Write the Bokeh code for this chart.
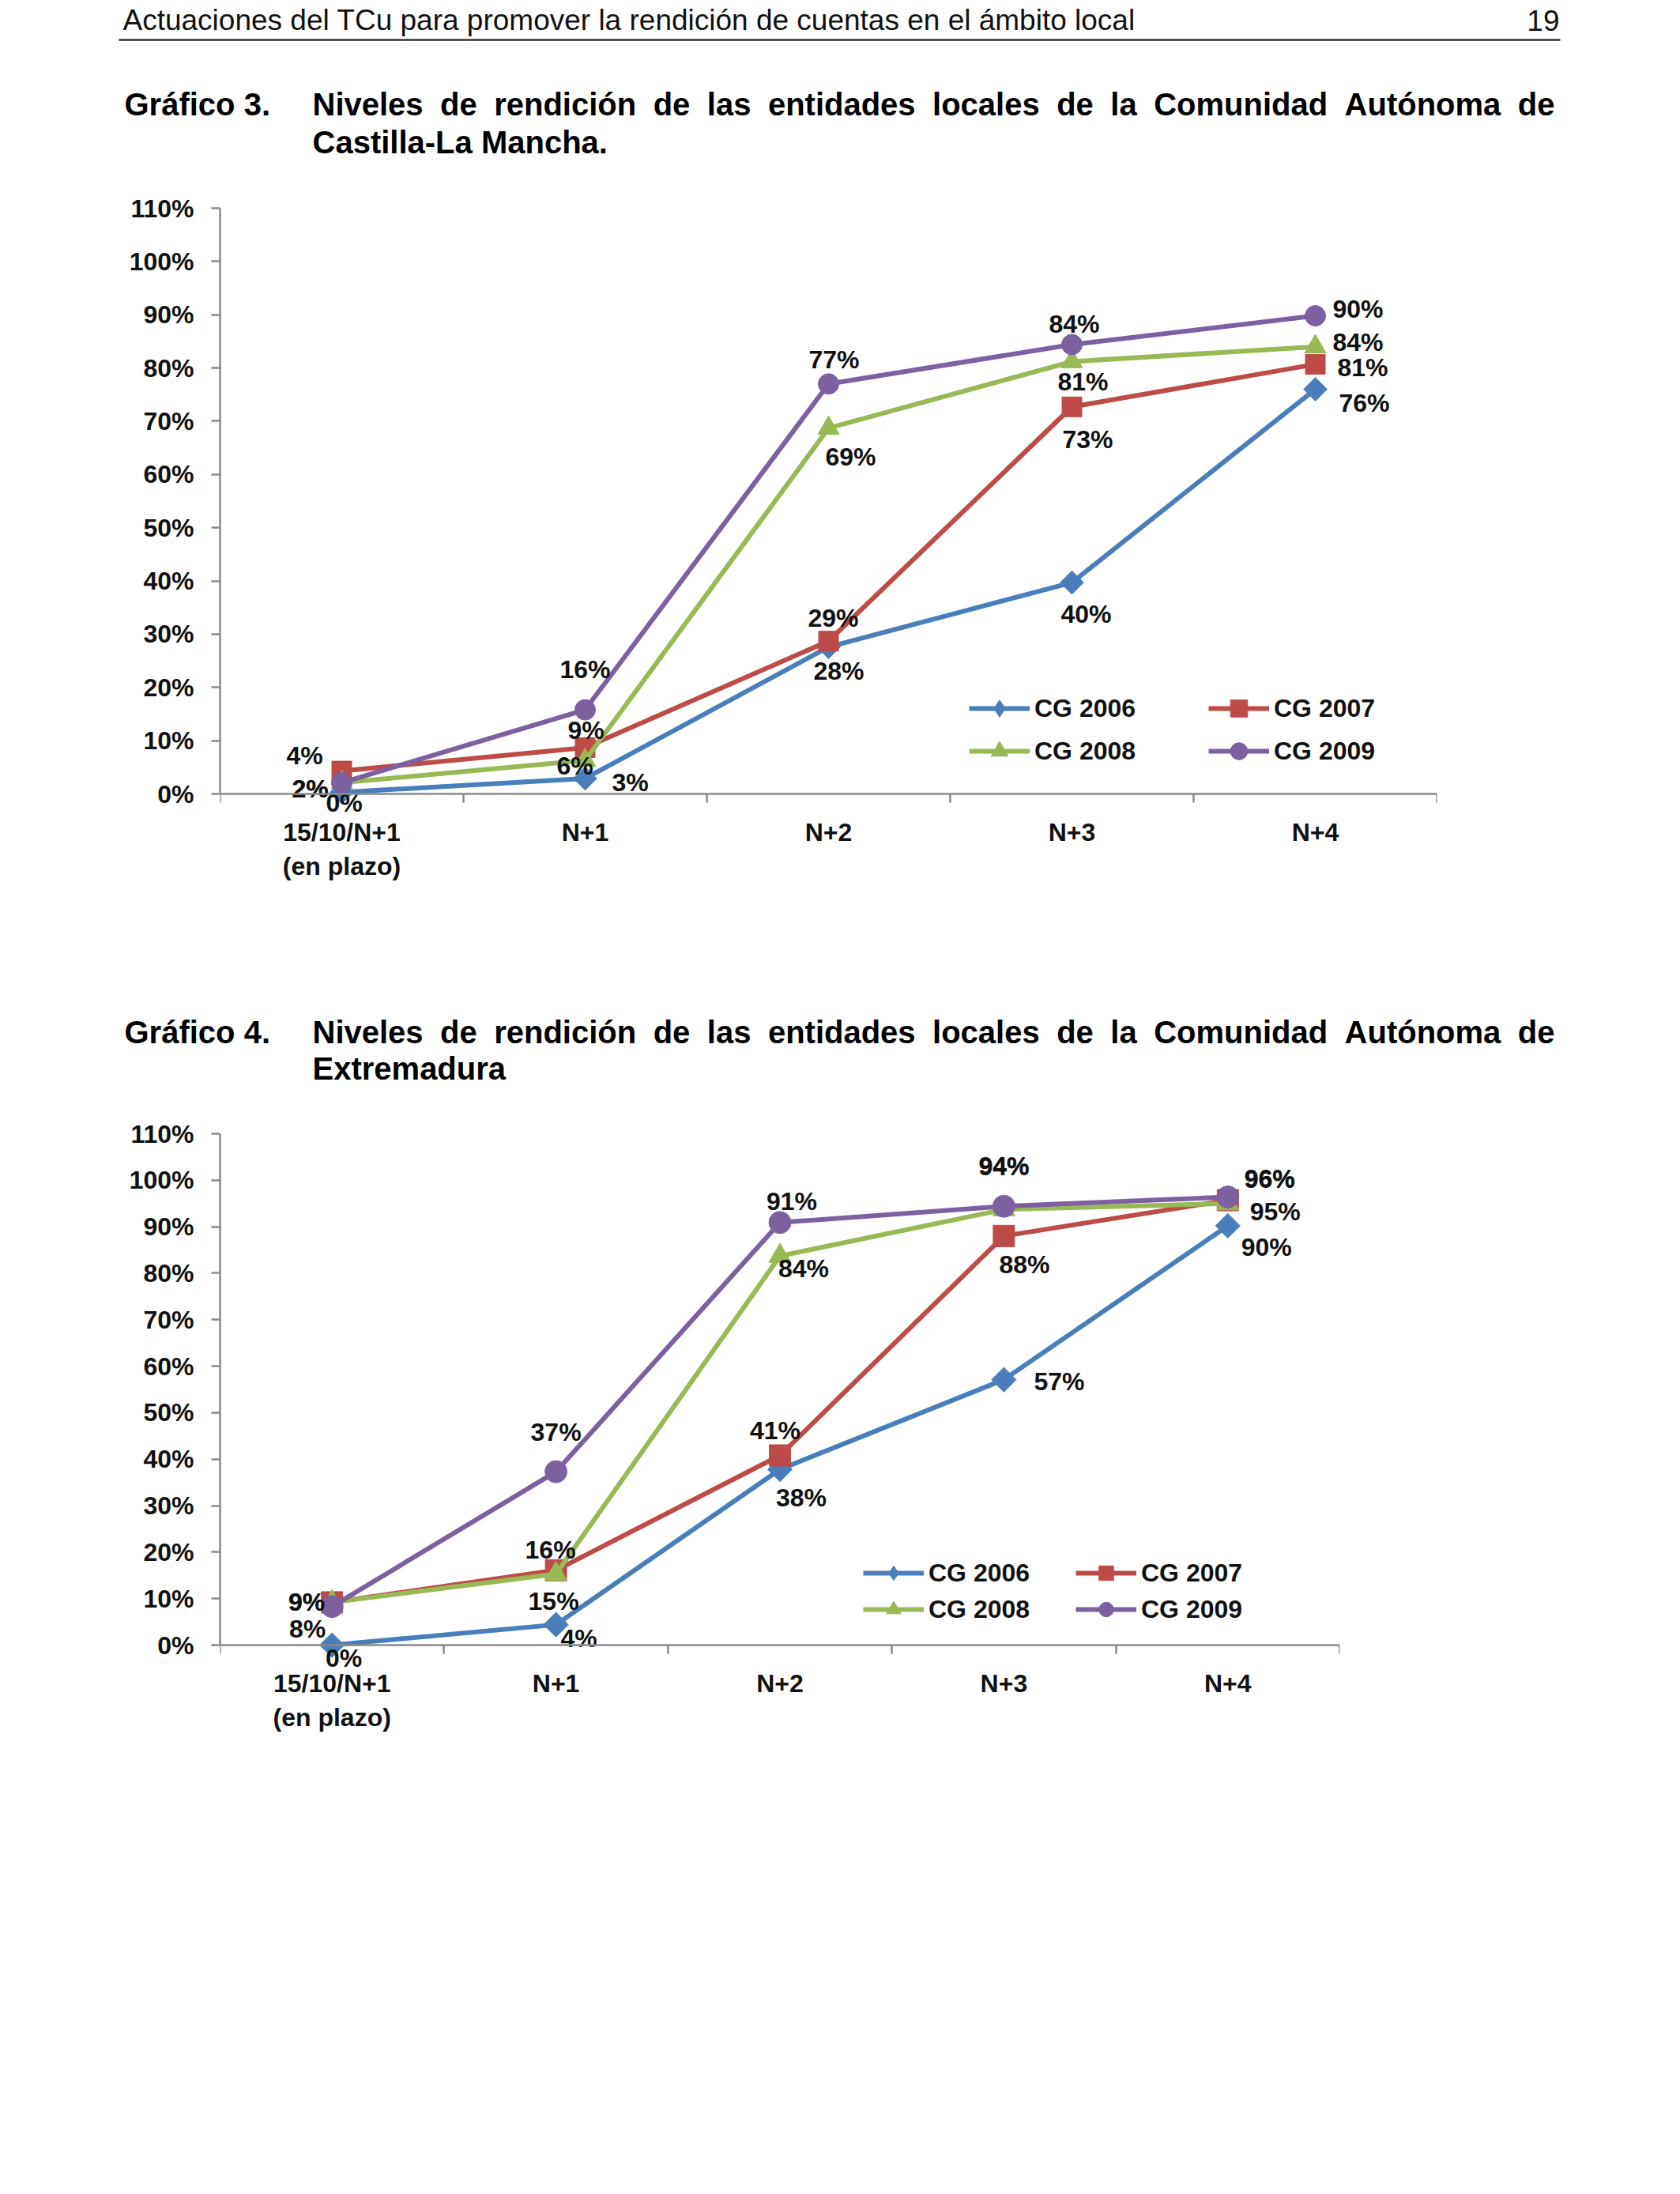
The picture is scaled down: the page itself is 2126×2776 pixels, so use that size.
import math
from bokeh.plotting import figure
from bokeh.models import Range1d, FixedTicker, NumeralTickFormatter, Legend, LegendItem
from bokeh.embed import file_html
from bokeh.resources import INLINE
from bokeh.core.properties import value

# ---------------- data ----------------
categories = ["15/10/N+1\n(en plazo)", "N+1", "N+2", "N+3", "N+4"]
series_names = ["CG 2006", "CG 2007", "CG 2008", "CG 2009"]
y_ticks = [i / 10 for i in range(12)]

# Gráfico 3 - Castilla-La Mancha
clm_2006 = [0.003, 0.029, 0.276, 0.397, 0.760]
clm_2007 = [0.043, 0.087, 0.287, 0.727, 0.807]
clm_2008 = [0.021, 0.063, 0.687, 0.812, 0.840]
clm_2009 = [0.021, 0.158, 0.770, 0.844, 0.898]

# Gráfico 4 - Extremadura
ext_2006 = [0.000, 0.044, 0.378, 0.571, 0.902]
ext_2007 = [0.092, 0.161, 0.408, 0.880, 0.957]
ext_2008 = [0.092, 0.153, 0.837, 0.937, 0.950]
ext_2009 = [0.083, 0.373, 0.909, 0.944, 0.964]

header_text = "Actuaciones del TCu para promover la rendición de cuentas en el ámbito local"
page_number = "19"
title1_label = "Gráfico 3."
title1_line1 = "Niveles de rendición de las entidades locales de la Comunidad Autónoma de"
title1_line2 = "Castilla-La Mancha."
title2_label = "Gráfico 4."
title2_line1 = "Niveles de rendición de las entidades locales de la Comunidad Autónoma de"
title2_line2 = "Extremadura"

# ---------------- styles ----------------
COLORS = ["#4A7EBB", "#BE4B48", "#98B954", "#7D60A0"]
MARKERS = ["square", "square", "triangle", "circle"]
ANGLES = [math.pi / 4, 0, 0, 0]
SIZES1 = [21, 25, 27, 26]
SIZES2 = [22, 27, 28, 28]
FONT = "Liberation Sans"
FS = "32px"
TXT = "#111111"
AXIS_GRAY = "#898989"

OFF1 = [
    [(3, 14), (57, 5), (13, 30), (18, 40), (62, 17)],
    [(-47, -20), (1, -22), (6, -29), (20, 41), (60, 4)],
    [(-40, 8), (-13, 7), (28, 36), (14, 25), (54, -6)],
    [(-40, 8), (0, -51), (7, -31), (3, -26), (54, -9)],
]
OFF2 = [
    [(15, 16), (29, 17), (27, 36), (70, 2), (49, 27)],
    [(-32, 0), (-7, -26), (-6, -32), (26, 36), (53, -27)],
    [(-32, 0), (-3, 34), (30, 16), (0, -55), (60, 10)],
    [(-31, 28), (0, -50), (15, -27), (0, -50), (53, -23)],
]

W = 2126
FRAME_L = 278
EXTRA_PX = 135   # frame extends below the 0% line: category labels and low data labels stay inside
BOTTOM_PX = 130  # space kept for the (fixed-location) x axis panel

AB = {"A": 722, "C": 722, "N": 722, "a": 556, "c": 556, "d": 611, "e": 556,
      "i": 278, "l": 278, "m": 889, "n": 611, "o": 611, "r": 389, "s": 556,
      "t": 333, "u": 611, "v": 556, "ó": 611}


def justify(words, x0, x1, size):
    ws = [sum(AB.get(c, 556) for c in w) * size / 1000 for w in words]
    gap = (x1 - x0 - sum(ws)) / (len(words) - 1)
    xs, x = [], x0
    for w in ws:
        xs.append(x)
        x += w + gap
    return xs


def text_fig(top, height):
    f = figure(width=W, height=height, x_range=Range1d(0, W),
               y_range=Range1d(top + height, top), output_backend="svg",
               toolbar_location=None, min_border=0,
               x_axis_location=None, y_axis_location=None)
    f.outline_line_color = None
    f.xgrid.visible = False
    f.ygrid.visible = False
    return f


def put_text(f, xs, ys, texts, size, bold=False, align="left", color="#000000"):
    f.text(x=xs, y=ys, text=texts, text_font=value(FONT), text_font_size=f"{size}px",
           text_font_style="bold" if bold else "normal", text_baseline="middle",
           text_align=align, text_color=color)


def add_title(f, label, line1, line2, y1, y2):
    size = 40
    put_text(f, [157], [y1], [label], size, bold=True)
    words = line1.split(" ")
    put_text(f, justify(words, 395, 1967, size), [y1] * len(words), words, size, bold=True)
    put_text(f, [395], [y2], [line2], size, bold=True)


def chart(series, offsets, sizes, top_page, frame_top, zero_y,
          frame_right, legend_loc, label_w, row_h):
    n = len(categories)
    px_per_unit = (zero_y - frame_top) / 1.1
    y_start = -EXTRA_PX / px_per_unit
    height = (zero_y + EXTRA_PX + BOTTOM_PX) - top_page
    p = figure(width=W, height=height, output_backend="svg", toolbar_location=None,
               x_range=Range1d(0, n), y_range=Range1d(y_start, 1.1),
               min_border_left=FRAME_L, min_border_right=W - frame_right,
               min_border_top=frame_top - top_page, min_border_bottom=BOTTOM_PX)
    p.outline_line_color = None
    p.xgrid.visible = False
    p.ygrid.visible = False

    xs = [i + 0.5 for i in range(n)]
    items = []
    for k, vals in enumerate(series):
        lr = p.line(xs, vals, line_color=COLORS[k], line_width=6, line_join="round")
        rends = [lr]
        if k == 0:
            # Bokeh diamond hidden under the rotated square; used for the legend symbol
            rends.append(p.scatter(xs, vals, marker="diamond", size=sizes[k] + 5,
                                   fill_color=COLORS[k], line_color=COLORS[k]))
        sr = p.scatter(xs, vals, marker=MARKERS[k], angle=ANGLES[k], size=sizes[k],
                       fill_color=COLORS[k], line_color=COLORS[k], line_width=1)
        if k != 0:
            rends.append(sr)
        items.append(LegendItem(label=series_names[k], renderers=rends))
    for k, vals in enumerate(series):
        p.text(xs, vals, text=[f"{int(v * 100 + 0.5)}%" for v in vals],
               x_offset=[o[0] for o in offsets[k]], y_offset=[o[1] for o in offsets[k]],
               text_font=value(FONT), text_font_style="bold", text_font_size=FS,
               text_align="center", text_baseline="middle", text_color=TXT)

    ya = p.yaxis[0]
    ya.bounds = (0, 1.1)
    ya.ticker = FixedTicker(ticks=y_ticks)
    ya.formatter = NumeralTickFormatter(format="0%")
    ya.axis_line_color = AXIS_GRAY
    ya.axis_line_width = 2.5
    ya.major_tick_line_color = AXIS_GRAY
    ya.major_tick_line_width = 2.5
    ya.major_tick_out = 11
    ya.major_tick_in = 0
    ya.minor_tick_line_color = None
    ya.major_label_standoff = 22
    ya.major_label_text_font = FONT
    ya.major_label_text_font_style = "bold"
    ya.major_label_text_font_size = FS
    ya.major_label_text_color = TXT

    xa = p.xaxis[0]
    xa.fixed_location = 0
    xa.ticker = FixedTicker(ticks=xs, minor_ticks=list(range(n + 1)))
    xa.major_label_overrides = {x: c for x, c in zip(xs, categories)}
    xa.axis_line_color = AXIS_GRAY
    xa.axis_line_width = 2.5
    xa.major_tick_line_color = None
    xa.major_tick_out = 11
    xa.major_tick_in = 0
    xa.minor_tick_line_color = AXIS_GRAY
    xa.minor_tick_line_width = 2.5
    xa.minor_tick_out = 11
    xa.minor_tick_in = 0
    xa.major_label_standoff = 19
    xa.major_label_text_font = FONT
    xa.major_label_text_font_style = "bold"
    xa.major_label_text_font_size = FS
    xa.major_label_text_color = TXT

    leg = Legend(items=items, location=(legend_loc[0], legend_loc[1] + EXTRA_PX),
                 ncols=2, orientation="horizontal",
                 border_line_color=None, background_fill_alpha=0, padding=0, margin=0,
                 spacing=0, glyph_width=77, glyph_height=row_h, label_height=row_h,
                 label_width=label_w, label_standoff=6,
                 label_text_font=FONT, label_text_font_style="bold",
                 label_text_font_size=FS, label_text_color=TXT)
    p.add_layout(leg, "center")
    return p, top_page + height


# ---------------- page ----------------
f0 = text_fig(0, 230)
put_text(f0, [155], [25], [header_text], 37, color="#111111")
put_text(f0, [1973], [25], [page_number], 37, align="right", color="#111111")
f0.segment(x0=[150], y0=[50], x1=[1974], y1=[50], line_width=2.5, line_color="#333333")
add_title(f0, title1_label, title1_line1, title1_line2, 131, 179)

p1, p1_end = chart([clm_2006, clm_2007, clm_2008, clm_2009], OFF1, SIZES1,
                   top_page=230, frame_top=263, zero_y=1004,
                   frame_right=1818, legend_loc=(948, 27), label_w=220, row_h=54)

f2 = text_fig(p1_end, 1400 - p1_end)
add_title(f2, title2_label, title2_line1, title2_line2, 1305, 1351)

p2, _ = chart([ext_2006, ext_2007, ext_2008, ext_2009], OFF2, SIZES2,
              top_page=1400, frame_top=1434, zero_y=2081,
              frame_right=1695, legend_loc=(814, 22), label_w=186, row_h=46)

open("out.html", "w").write(file_html([f0, p1, f2, p2], INLINE))
